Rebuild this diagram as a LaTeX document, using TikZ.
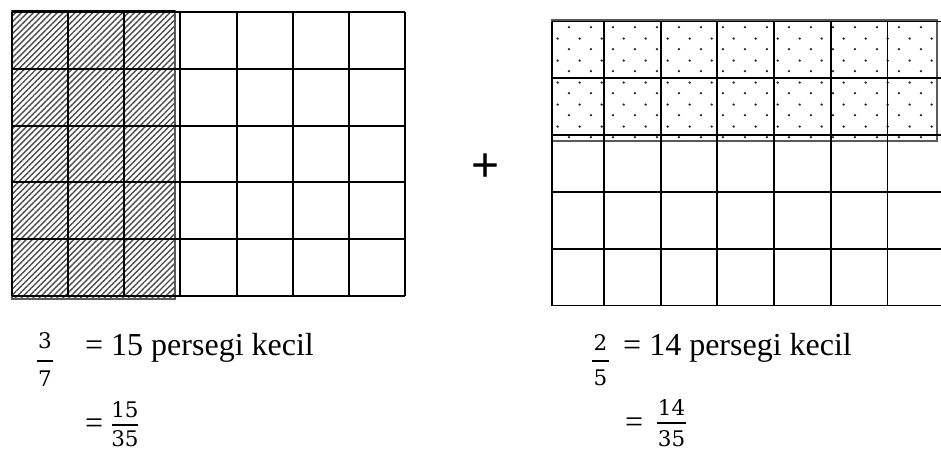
\documentclass[tikz,border=0pt]{standalone}
\usepackage{fontspec}
\setmainfont{Liberation Serif}
\newfontfamily\angkafont{DejaVu Serif}
\newfontfamily\tandafont{Liberation Sans}
\usetikzlibrary{patterns, patterns.meta}
\pgfdeclarepatternformonly{titik}{\pgfpointorigin}{\pgfpoint{21.7pt}{22pt}}{\pgfpoint{21.7pt}{22pt}}{%
  \pgfpathcircle{\pgfpoint{5pt}{5pt}}{1.3pt}%
  \pgfpathcircle{\pgfpoint{15.85pt}{16pt}}{1.3pt}%
  \pgfusepath{fill}}

\begin{document}
\begin{tikzpicture}[
    x=1pt, y=-1pt,
    garis/.style={line width=1.9pt, black},
    tepi/.style={line width=1.4pt, black!65},
    arsir/.style={pattern={Lines[angle=45, distance=4.2pt, line width=1.4pt]}, pattern color=black!70},
    bintik/.style={pattern=titik, pattern color=black!85},
    teks/.style={font=\fontsize{32}{36}\selectfont, inner sep=0pt},
    angka/.style={font=\angkafont\fontsize{21.5}{23}\selectfont, inner sep=0pt},
    bar/.style={line width=1.8pt}
]
    \useasboundingbox (0,0) rectangle (941,450);
    % 3/7 diarsir
    \fill[arsir] (12,11) rectangle (175,299);
    \draw[tepi] (12,11) rectangle (175,299);
    \draw[garis, line width=2.6pt] (12,11) -- (175,11);
    % petak kiri 7 x 5
    \foreach \i in {0,...,7}
        \draw[garis] ({12+\i*56.14},12) -- ({12+\i*56.14},296);
    \foreach \j in {0,...,5}
        \draw[garis] (12,{12+\j*56.8}) -- (405,{12+\j*56.8});

    % 2/5 bertitik
    \fill[bintik] (552,20) rectangle (937,141);
    \draw[tepi] (552,20) rectangle (937,141);
    % petak kanan
    \foreach \x in {552,604,660.7,717.4,774.1,830.8,887.5}
        \draw[garis] (\x,21.5) -- (\x,305.5);
    \foreach \j in {0,...,5}
        \draw[garis] (552,{21.5+\j*56.8}) -- (941,{21.5+\j*56.8});

    \node[font=\tandafont\fontsize{48}{48}\selectfont, inner sep=0pt] (tambah) at (486,168) {+};

    % keterangan kiri
    \node[angka, anchor=base] (a3) at (45,348) {3};
    \node[angka, anchor=base] (a7) at (45,386) {7};
    \draw[bar] (37,361) -- (53,361);
    \node[teks, anchor=base west] (ket1) at (85,355) {= 15 persegi kecil};
    \node[teks, anchor=base west] (sama1) at (85,433) {=};
    \node[angka, anchor=base] (a15) at (125,417) {15};
    \node[angka, anchor=base] (a35) at (125,446) {35};
    \draw[bar] (112,425) -- (138,425);

    % keterangan kanan
    \node[angka, anchor=base] (a2) at (600.5,350) {2};
    \node[angka, anchor=base] (a5) at (600.5,385) {5};
    \draw[bar] (592,361) -- (609,361);
    \node[teks, anchor=base west] (ket2) at (623,355) {= 14 persegi kecil};
    \node[teks, anchor=base west] (sama2) at (625,432) {=};
    \node[angka, anchor=base] (a14) at (671.5,415) {14};
    \node[angka, anchor=base] (b35) at (671.5,446) {35};
    \draw[bar] (657,423) -- (686,423);
\end{tikzpicture}
\end{document}
